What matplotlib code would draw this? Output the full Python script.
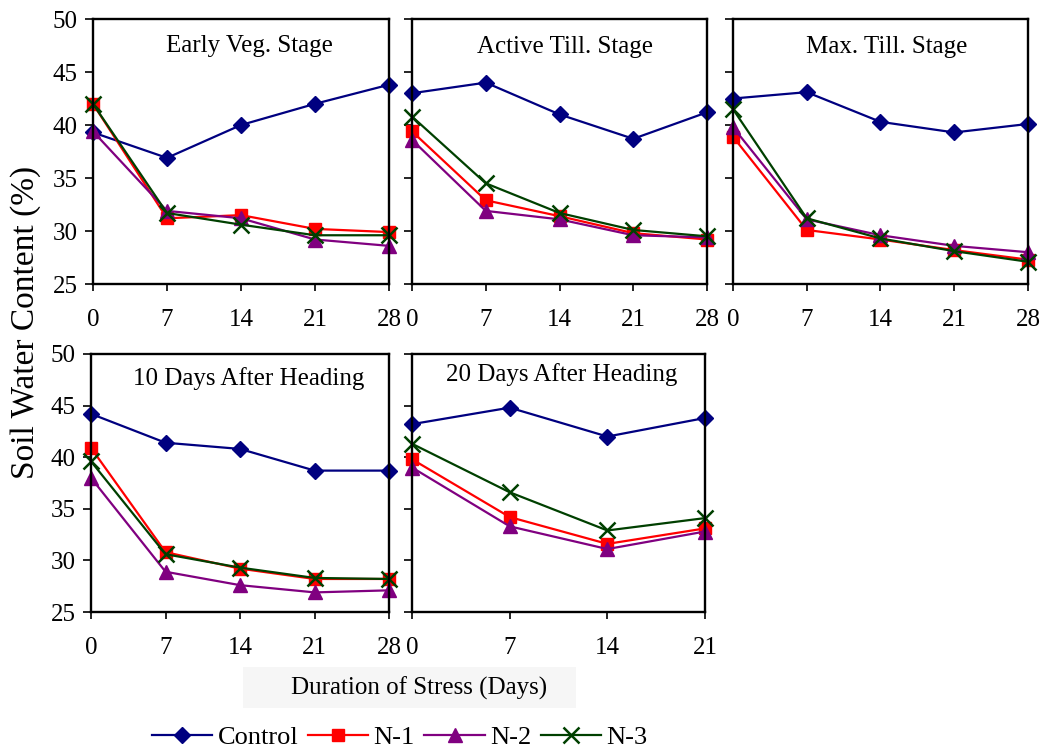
import matplotlib.pyplot as plt
from matplotlib.patches import Rectangle

plt.rcParams['font.family'] = ['Liberation Serif', 'DejaVu Serif']

days = [0, 7, 14, 21, 28]
days_short = [0, 7, 14, 21]

titles = ["Early Veg. Stage", "Active Till. Stage", "Max. Till. Stage",
          "10 Days After Heading", "20 Days After Heading"]
series_names = ["Control", "N-1", "N-2", "N-3"]

# soil water content (%) per stage, per treatment
early_veg = {
    "Control": [39.3, 36.9, 40.0, 42.0, 43.8],
    "N-1": [42.0, 31.2, 31.5, 30.2, 29.9],
    "N-2": [39.4, 31.9, 31.2, 29.2, 28.6],
    "N-3": [42.0, 31.7, 30.6, 29.6, 29.6],
}
active_till = {
    "Control": [43.0, 44.0, 41.0, 38.7, 41.2],
    "N-1": [39.4, 32.9, 31.4, 29.8, 29.2],
    "N-2": [38.6, 31.9, 31.1, 29.6, 29.4],
    "N-3": [40.8, 34.5, 31.7, 30.1, 29.5],
}
max_till = {
    "Control": [42.5, 43.1, 40.3, 39.3, 40.1],
    "N-1": [38.9, 30.1, 29.2, 28.2, 27.3],
    "N-2": [39.8, 31.1, 29.6, 28.6, 28.0],
    "N-3": [41.5, 31.2, 29.3, 28.1, 27.1],
}
after_10 = {
    "Control": [44.2, 41.4, 40.8, 38.7, 38.7],
    "N-1": [40.9, 30.8, 29.2, 28.2, 28.2],
    "N-2": [38.0, 28.9, 27.6, 26.9, 27.1],
    "N-3": [39.6, 30.6, 29.3, 28.3, 28.2],
}
after_20 = {
    "Control": [43.2, 44.8, 42.0, 43.8],
    "N-1": [39.8, 34.2, 31.6, 33.1],
    "N-2": [39.0, 33.3, 31.1, 32.8],
    "N-3": [41.3, 36.6, 32.9, 34.1],
}

styles = {
    "Control": dict(color='#000080', marker='D', ms=8.5),
    "N-1": dict(color='#ff0000', marker='s', ms=9),
    "N-2": dict(color='#800080', marker='^', ms=10),
    "N-3": dict(color='#004000', marker='x', ms=11, mew=1.8),
}

fig = plt.figure(figsize=(10.41, 7.49), dpi=100)

positions = [
    [0.0893, 0.6208, 0.2844, 0.3538],
    [0.3958, 0.6208, 0.2834, 0.3538],
    [0.7041, 0.6208, 0.2834, 0.3538],
    [0.0874, 0.1829, 0.2865, 0.3445],
    [0.3958, 0.1829, 0.2815, 0.3445],
]
title_pos = [(0.53, 0.90), (0.52, 0.895), (0.52, 0.895), (0.53, 0.905), (0.51, 0.92)]
panels = [(early_veg, days), (active_till, days), (max_till, days),
          (after_10, days), (after_20, days_short)]

lines = []
for i, ((data, x), pos) in enumerate(zip(panels, positions)):
    ax = fig.add_axes(pos)
    for name in series_names:
        st = styles[name]
        ln, = ax.plot(x, data[name], color=st['color'], marker=st['marker'],
                      markersize=st['ms'], mew=st.get('mew', 1), lw=1.6,
                      clip_on=False)
        if i == 0:
            lines.append(ln)
    ax.set_xlim(x[0], x[-1])
    ax.set_ylim(25, 50)
    ax.set_xticks(x)
    ax.set_yticks([25, 30, 35, 40, 45, 50])
    ax.tick_params(axis='x', direction='out', length=5, width=1.2, pad=13, labelsize=18)
    ax.tick_params(axis='y', direction='out', length=6, width=1.2, pad=5, labelsize=18)
    if i not in (0, 3):
        ax.set_yticklabels([])
    for sp in ax.spines.values():
        sp.set_linewidth(1.7)
    tx, ty = title_pos[i]
    ax.text(tx, ty, titles[i], transform=ax.transAxes, ha='center', va='center',
            fontsize=18)

fig.text(0.025, 0.569, "Soil Water Content (%)", rotation=90, ha='center',
         va='center', fontsize=24)

fig.patches.append(Rectangle((0.233, 0.055), 0.32, 0.054, transform=fig.transFigure,
                             facecolor='#f6f6f6', edgecolor='none', zorder=0))
fig.text(0.4025, 0.0814, "Duration of Stress (Days)", ha='center', va='center',
         fontsize=18)

fig.legend(lines, series_names, loc='center', bbox_to_anchor=(0.384, 0.016), ncol=4,
           frameon=False, fontsize=19, handlelength=2.3, handletextpad=0.2,
           columnspacing=0.35, borderpad=0)

fig.savefig("out.png", dpi=100)
